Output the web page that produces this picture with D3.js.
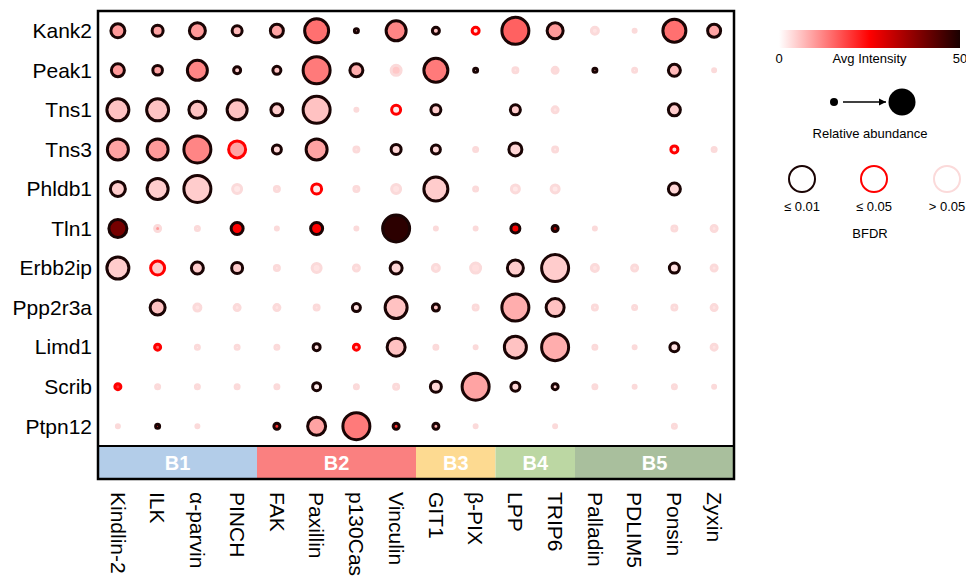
<!DOCTYPE html>
<html>
<head>
<meta charset="utf-8">
<script src="https://cdn.jsdelivr.net/npm/d3@7"></script>
<style>
  body { margin: 0; background: #fff; }
  svg { display: block; font-family: "Liberation Sans", Arial, sans-serif; }
</style>
</head>
<body>
<div id="chart"></div>
<script>
// baits (columns) and preys (rows)
const baits = ["Kindlin-2", "ILK", "α-parvin", "PINCH", "FAK", "Paxillin", "p130Cas", "Vinculin",
  "GIT1", "β-PIX", "LPP", "TRIP6", "Palladin", "PDLIM5", "Ponsin", "Zyxin"];
const preys = ["Kank2", "Peak1", "Tns1", "Tns3", "Phldb1", "Tln1", "Erbb2ip", "Ppp2r3a", "Limd1", "Scrib", "Ptpn12"];

const groups = ["B1", "B2", "B3", "B4", "B5"];
const groupSizes = [4, 4, 2, 2, 4];
const groupColours = ["#b3cde9", "#fa8080", "#fdda91", "#bcd7a3", "#a9bf9d"];

// relative abundance per prey row (0 = not detected)
const abundance = [
  [8.5, 7, 9.5, 6.5, 8, 13.5, 3.5, 11.5, 5, 5, 15, 9.5, 5, 3, 13, 8],
  [8, 6.3, 11.5, 5, 5.5, 15, 8, 6.5, 13.5, 3.5, 4, 4.5, 3.5, 3.5, 7.5, 3],
  [12.5, 12.5, 10, 11.5, 7.5, 15, 3, 6, 6.5, 0, 6.5, 4.5, 0, 0, 7.5, 0],
  [12, 12, 15, 10, 6, 12, 4, 6.5, 6, 3.5, 8, 4, 0, 0, 5, 3.5],
  [9, 12, 15, 6, 4, 6.5, 4, 6, 13.5, 3.5, 5.5, 5.5, 0, 0, 7.5, 0],
  [10.5, 4.5, 3.5, 7.5, 3, 7.5, 3, 15, 3, 3, 6, 4.5, 3, 0, 4, 4.5],
  [12.5, 8.5, 7.5, 7, 4, 6, 4.5, 7.5, 5, 6.5, 9.5, 15, 5, 4.5, 6.5, 4.5],
  [0, 9, 5, 4.5, 4.5, 4, 5.5, 12.5, 5, 4, 15, 10.5, 4, 3.5, 4, 4.5],
  [0, 4.5, 3.5, 3.5, 3.5, 5, 4.5, 10.5, 3.5, 3, 12.5, 15, 3.5, 3, 6, 4.5],
  [4.5, 3.5, 3.5, 3.5, 3.5, 5.5, 3.5, 4, 7, 15, 6, 4.5, 3.5, 3, 3.5, 3],
  [3, 3.5, 3, 0, 4.5, 10.5, 15, 4.5, 4.5, 3, 0, 3, 0, 0, 3.5, 0]
];

// average intensity per prey row
const intensity = [
  [10, 9, 10, 7, 9, 14, 8, 12, 6, 3, 15.5, 10, 6, 5, 14, 9],
  [10, 9, 12, 5, 6, 13, 8, 12, 13, 4, 6, 8, 10, 3, 7, 3],
  [6, 6, 6, 6, 5, 6, 6, 2, 5, 0, 5, 6, 0, 0, 5, 0],
  [9, 10, 12, 9, 4, 9, 6, 4, 4, 6, 4, 5, 0, 0, 3, 6],
  [5, 5, 5, 5, 6, 2, 6, 6, 5, 5, 5, 5, 0, 0, 4, 0],
  [40, 22, 5, 25, 4, 25, 5, 48, 5, 3, 26, 35, 3, 0, 6, 6],
  [5, 5, 5, 5, 6, 6, 6, 4, 6, 7, 5, 5, 6, 6, 3, 6],
  [0, 6, 6, 6, 6, 6, 3, 6, 6, 6, 8, 6, 5, 4, 5, 6],
  [0, 15, 3, 2, 5, 3, 8, 6, 6, 4, 6, 8, 5, 3, 3, 6],
  [20, 6, 6, 6, 6, 2, 6, 6, 4, 9, 4, 5, 6, 6, 6, 3],
  [3, 20, 2, 0, 20, 9, 13, 20, 8, 6, 0, 2, 0, 0, 6, 0]
];

// BFDR per prey row
const bfdr = [
  [0.01, 0.01, 0.01, 0.01, 0.01, 0.01, 0.01, 0.01, 0.01, 0.03, 0.01, 0.01, 0.2, 0.2, 0.01, 0.01],
  [0.01, 0.01, 0.01, 0.01, 0.01, 0.01, 0.01, 0.2, 0.01, 0.01, 0.2, 0.2, 0.01, 0.2, 0.01, 0.2],
  [0.01, 0.01, 0.01, 0.01, 0.01, 0.01, 0.2, 0.03, 0.01, 1, 0.01, 0.2, 1, 1, 0.01, 1],
  [0.01, 0.01, 0.01, 0.03, 0.01, 0.01, 0.2, 0.01, 0.01, 0.2, 0.01, 0.2, 1, 1, 0.03, 0.2],
  [0.01, 0.01, 0.01, 0.2, 0.2, 0.03, 0.2, 0.2, 0.01, 0.2, 0.2, 0.2, 1, 1, 0.01, 1],
  [0.01, 0.2, 0.2, 0.01, 0.2, 0.01, 0.2, 0.01, 0.2, 0.2, 0.01, 0.01, 0.2, 1, 0.2, 0.2],
  [0.01, 0.03, 0.01, 0.01, 0.2, 0.2, 0.2, 0.01, 0.2, 0.2, 0.01, 0.01, 0.2, 0.2, 0.01, 0.2],
  [1, 0.01, 0.2, 0.2, 0.2, 0.2, 0.01, 0.01, 0.01, 0.2, 0.01, 0.01, 0.2, 0.2, 0.2, 0.2],
  [1, 0.03, 0.2, 0.2, 0.2, 0.01, 0.03, 0.01, 0.2, 0.2, 0.01, 0.01, 0.2, 0.2, 0.01, 0.2],
  [0.03, 0.2, 0.2, 0.2, 0.2, 0.01, 0.2, 0.2, 0.01, 0.01, 0.01, 0.01, 0.2, 0.2, 0.2, 0.2],
  [0.2, 0.01, 0.2, 1, 0.01, 0.01, 0.01, 0.01, 0.01, 0.2, 1, 0.2, 1, 1, 0.2, 1]
];

const bfdrLabels = ["≤ 0.01", "≤ 0.05", "> 0.05"];

const width = 966, height = 580;
const plot = { left: 98, right: 734, top: 11, bottom: 446, band: 479 };

const svg = d3.select("#chart").append("svg")
  .attr("width", width)
  .attr("height", height);

const x = d3.scaleBand().domain(baits).range([plot.left, plot.right]);
const y = d3.scaleBand().domain(preys).range([plot.top, plot.bottom]);
const size = d3.scaleLinear().domain([0, 15]).range([0, 15]);
const colour = d3.scaleLinear().domain([0, 25, 50]).range(["#ffffff", "#ff0000", "#1a0000"]);

const darkRing = "#1a0404";
const paleRing = "#fbdada";
const ringColour = v => v <= 0.01 ? darkRing : v <= 0.05 ? "#ff0000" : paleRing;
const sw = 3;

// group band
let start = 0;
groups.forEach((g, i) => {
  const x0 = x(baits[start]);
  const x1 = x(baits[start + groupSizes[i] - 1]) + x.bandwidth();
  svg.append("rect")
    .attr("x", x0).attr("y", plot.bottom)
    .attr("width", x1 - x0).attr("height", plot.band - plot.bottom)
    .attr("fill", groupColours[i]);
  svg.append("text")
    .attr("x", (x0 + x1) / 2).attr("y", (plot.bottom + plot.band) / 2)
    .attr("dy", "0.36em")
    .attr("text-anchor", "middle")
    .attr("fill", "#fff")
    .attr("font-weight", "bold")
    .attr("font-size", 20)
    .text(g);
  start += groupSizes[i];
});

// dots
const cells = [];
preys.forEach((p, i) => baits.forEach((b, j) => {
  if (abundance[i][j] > 0) {
    cells.push({ prey: p, bait: b, a: abundance[i][j], v: intensity[i][j], fdr: bfdr[i][j] });
  }
}));

svg.append("g").selectAll("circle")
  .data(cells)
  .join("circle")
  .attr("cx", d => x(d.bait) + x.bandwidth() / 2)
  .attr("cy", d => y(d.prey) + y.bandwidth() / 2)
  .attr("r", d => Math.max(size(d.a) - sw / 2, 0.5))
  .attr("fill", d => colour(d.v))
  .attr("fill-opacity", d => d.fdr > 0.05 ? 0.45 : 1)
  .attr("stroke", d => ringColour(d.fdr))
  .attr("stroke-width", sw);

// frame
svg.append("rect")
  .attr("x", plot.left).attr("y", plot.top)
  .attr("width", plot.right - plot.left).attr("height", plot.band - plot.top)
  .attr("fill", "none").attr("stroke", "#000").attr("stroke-width", 2.5);
svg.append("line")
  .attr("x1", plot.left).attr("x2", plot.right)
  .attr("y1", plot.bottom).attr("y2", plot.bottom)
  .attr("stroke", "#000").attr("stroke-width", 2);

// row labels
svg.append("g").selectAll("text")
  .data(preys)
  .join("text")
  .attr("x", plot.left - 6)
  .attr("y", d => y(d) + y.bandwidth() / 2)
  .attr("dy", "0.35em")
  .attr("text-anchor", "end")
  .attr("font-size", 21)
  .text(d => d);

// column labels, rotated
svg.append("g").selectAll("text")
  .data(baits)
  .join("text")
  .attr("transform", d => `translate(${x(d) + x.bandwidth() / 2},${plot.band + 13}) rotate(90)`)
  .attr("dy", "0.35em")
  .attr("font-size", 21)
  .text(d => d);

// legend: intensity
const lg = svg.append("g");
const defs = svg.append("defs");
const grad = defs.append("linearGradient").attr("id", "intGrad");
[0, 12.5, 25, 37.5, 50].forEach(v => {
  grad.append("stop").attr("offset", `${v * 2}%`).attr("stop-color", colour(v));
});
const lx = d3.scaleLinear().domain([0, 50]).range([779, 960]);
lg.append("rect")
  .attr("x", lx(0)).attr("y", 30)
  .attr("width", lx(50) - lx(0)).attr("height", 18)
  .attr("fill", "url(#intGrad)");
lg.append("text").attr("x", lx(0)).attr("y", 63).attr("font-size", 13).attr("text-anchor", "middle").text("0");
lg.append("text").attr("x", lx(50)).attr("y", 63).attr("font-size", 13).attr("text-anchor", "middle").text("50");
lg.append("text").attr("x", lx(25)).attr("y", 63).attr("font-size", 13).attr("text-anchor", "middle").text("Avg Intensity");

// legend: abundance
defs.append("marker")
  .attr("id", "arrow")
  .attr("viewBox", "0 0 10 10")
  .attr("refX", 10).attr("refY", 5)
  .attr("markerWidth", 5).attr("markerHeight", 5)
  .attr("orient", "auto")
  .append("path").attr("d", "M0,0L10,5L0,10Z").attr("fill", "#000");
lg.append("circle").attr("cx", 834).attr("cy", 102).attr("r", 4).attr("fill", "#000");
lg.append("line")
  .attr("x1", 843).attr("x2", 886).attr("y1", 102).attr("y2", 102)
  .attr("stroke", "#000").attr("stroke-width", 1.5)
  .attr("marker-end", "url(#arrow)");
lg.append("circle").attr("cx", 902).attr("cy", 102).attr("r", 13.5).attr("fill", "#000");
lg.append("text").attr("x", 870).attr("y", 138).attr("font-size", 13).attr("text-anchor", "middle").text("Relative abundance");

// legend: BFDR
const bx = [802, 874, 947];
const bRings = [darkRing, "#ff0000", paleRing];
bx.forEach((cx, i) => {
  lg.append("circle").attr("cx", cx).attr("cy", 179).attr("r", 13)
    .attr("fill", "none").attr("stroke", bRings[i]).attr("stroke-width", 2);
  lg.append("text").attr("x", cx).attr("y", 211).attr("font-size", 13)
    .attr("text-anchor", "middle").text(bfdrLabels[i]);
});
lg.append("text").attr("x", 870).attr("y", 238).attr("font-size", 13).attr("text-anchor", "middle").text("BFDR");
</script>
</body>
</html>
